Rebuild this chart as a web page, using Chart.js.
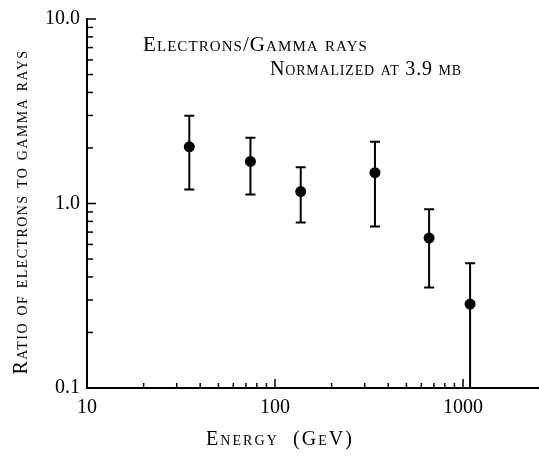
<!DOCTYPE html>
<html><head><meta charset="utf-8">
<script src="https://cdn.jsdelivr.net/npm/chart.js@4"></script>
<style>html,body{margin:0;padding:0;background:#fff}#wrap{width:539px;height:456px;position:relative}</style>
</head><body><div id="wrap"><canvas id="c" width="539" height="456"></canvas></div>
<script>
const energy = [35, 74, 137, 340, 660, 1090];
const ratio = [2.03, 1.69, 1.16, 1.47, 0.65, 0.285];
const errLow = [1.19, 1.12, 0.79, 0.75, 0.35, 0.1];
const errHigh = [2.99, 2.27, 1.57, 2.16, 0.93, 0.474];
const xTickLabels = {10: '10', 100: '100', 1000: '1000'};
const yTickLabels = {10: '10.0', 1: '1.0', 0.1: '0.1'};
const xTitle = 'Energy  (GeV)';
const yTitle = 'Ratio of electrons to gamma rays';
const notes = ['Electrons/Gamma rays', 'Normalized at 3.9 mb'];

const SERIF = "'Liberation Serif', 'DejaVu Serif', serif";

const points = energy.map((e, i) => ({x: e, y: ratio[i]}));

function isPow10(v) {
  const l = Math.log10(v);
  return Math.abs(l - Math.round(l)) < 1e-6;
}

function logTickValues(min, max, upTo) {
  const out = [];
  const e0 = Math.floor(Math.log10(min));
  const e1 = Math.ceil(Math.log10(max));
  for (let e = e0; e <= e1; e++) {
    for (let m = 1; m <= 9; m++) {
      const v = m * Math.pow(10, e);
      if (v > min * 1.0001 && v <= Math.min(max, upTo) * 1.0001) out.push(v);
    }
  }
  return out;
}

function spacedText(ctx, text, x, y, width, align) {
  ctx.letterSpacing = '0px';
  const w0 = ctx.measureText(text).width;
  const n = Array.from(text).length;
  const ls = n > 1 ? (width - w0) / n : 0;
  ctx.letterSpacing = ls.toFixed(2) + 'px';
  let sx = x;
  if (align === 'center') sx = x - width / 2;
  ctx.textAlign = 'left';
  ctx.fillText(text, sx, y);
  ctx.letterSpacing = '0px';
}

const decorPlugin = {
  id: 'decor',
  beforeDatasetsDraw(chart) {
    const ctx = chart.ctx, xs = chart.scales.x, ys = chart.scales.y;
    ctx.save();
    ctx.strokeStyle = '#000';
    ctx.lineWidth = 2;
    ctx.lineCap = 'butt';
    for (let i = 0; i < energy.length; i++) {
      const px = xs.getPixelForValue(energy[i]);
      const pt = ys.getPixelForValue(errHigh[i]);
      const pb = ys.getPixelForValue(errLow[i]);
      ctx.beginPath();
      ctx.moveTo(px, pt); ctx.lineTo(px, pb);
      ctx.moveTo(px - 5, pt); ctx.lineTo(px + 5, pt);
      if (errLow[i] > 0.1001) { ctx.moveTo(px - 5, pb); ctx.lineTo(px + 5, pb); }
      ctx.stroke();
    }
    ctx.restore();
  },
  afterDraw(chart) {
    const ctx = chart.ctx, xs = chart.scales.x, ys = chart.scales.y;
    const area = chart.chartArea;
    ctx.save();
    ctx.strokeStyle = '#000';
    ctx.lineWidth = 1.5;
    logTickValues(10, 2535, 1000).forEach(v => {
      const px = xs.getPixelForValue(v);
      const len = isPow10(v) ? 9 : 5;
      ctx.beginPath(); ctx.moveTo(px, area.bottom); ctx.lineTo(px, area.bottom - len); ctx.stroke();
    });
    logTickValues(0.1, 10, 10).forEach(v => {
      const py = ys.getPixelForValue(v);
      const len = isPow10(v) ? 9 : 6;
      ctx.beginPath(); ctx.moveTo(area.left, py); ctx.lineTo(area.left + len, py); ctx.stroke();
    });
    ctx.fillStyle = '#000';
    ctx.textBaseline = 'middle';
    ctx.font = "small-caps 21px " + SERIF;
    spacedText(ctx, notes[0], 143, 45, 225, 'left');
    ctx.font = "small-caps 20px " + SERIF;
    spacedText(ctx, notes[1], 270, 70, 192, 'left');
    spacedText(ctx, xTitle, 280, 440, 148, 'center');
    ctx.save();
    ctx.translate(22, 212);
    ctx.rotate(-Math.PI / 2);
    spacedText(ctx, yTitle, 0, 0, 325, 'center');
    ctx.restore();
    ctx.restore();
  }
};

new Chart(document.getElementById('c'), {
  type: 'scatter',
  data: {
    datasets: [{
      data: points,
      backgroundColor: '#000',
      borderColor: '#000',
      borderWidth: 0,
      pointRadius: 5.5,
      pointHoverRadius: 5.5
    }]
  },
  options: {
    responsive: false,
    animation: false,
    events: [],
    layout: {autoPadding: false, padding: {top: 19, right: 0, bottom: 0, left: 0}},
    plugins: {legend: {display: false}, tooltip: {enabled: false}},
    scales: {
      x: {
        type: 'logarithmic',
        min: 10,
        max: 2535,
        grid: {display: false, drawTicks: true, tickLength: 8},
        border: {display: true, color: '#000', width: 2},
        afterFit(s) { s.height = 68; s.paddingRight = 0; s.paddingLeft = 0; },
        ticks: {
          autoSkip: false,
          maxRotation: 0,
          padding: 0,
          color: '#000',
          font: {family: SERIF, size: 20},
          callback: v => xTickLabels[v] !== undefined ? xTickLabels[v] : ''
        },
        title: {display: false}
      },
      y: {
        type: 'logarithmic',
        min: 0.1,
        max: 10,
        grid: {display: false, drawTicks: false, tickLength: 0},
        border: {display: true, color: '#000', width: 2},
        afterFit(s) { s.width = 87; },
        ticks: {
          autoSkip: false,
          padding: 7,
          color: '#000',
          font: {family: SERIF, size: 20},
          callback: v => {
            const k = Object.keys(yTickLabels).find(key => Math.abs(Number(key) - v) < 1e-9);
            return k !== undefined ? yTickLabels[k] : '';
          }
        },
        title: {display: false}
      }
    }
  },
  plugins: [decorPlugin]
});
</script>
</body></html>
